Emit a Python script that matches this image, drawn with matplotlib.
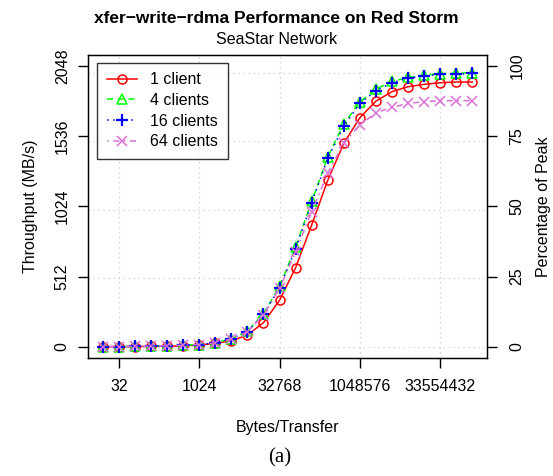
import matplotlib
matplotlib.use('Agg')
import matplotlib.pyplot as plt
from matplotlib.ticker import FixedLocator, NullLocator

plt.rcParams['font.family'] = ['Liberation Sans', 'DejaVu Sans']

# 每次传输的字节数
sizes = [16, 32, 64, 128, 256, 512, 1024, 2048, 4096, 8192, 16384, 32768,
         65536, 131072, 262144, 524288, 1048576, 2097152, 4194304, 8388608,
         16777216, 33554432, 67108864, 134217728]

# 吞吐量 (MB/s)
one_client = [0.3, 0.6, 1.2, 2.4, 4.5, 6, 12, 24, 44, 85, 175, 338, 576, 888,
              1214, 1484, 1671, 1792, 1861, 1897, 1914, 1926, 1931, 1931]
four_clients = [0.5, 1, 2, 4, 7, 11, 16, 28, 58, 112, 240, 440, 725, 1060,
                1385, 1625, 1785, 1880, 1935, 1965, 1982, 1992, 1995, 2000]
sixteen_clients = [0.5, 1, 2, 4, 7, 11, 16, 28, 58, 109, 236, 430, 713, 1051,
                   1374, 1610, 1775, 1868, 1926, 1958, 1975, 1987, 1989, 1994]
sixtyfour_clients = [0.5, 1, 2, 4, 7, 11, 16, 28, 58, 109, 231, 425, 693, 985,
                     1265, 1488, 1617, 1707, 1746, 1775, 1788, 1795, 1795, 1795]

series = [
    ('1 client', one_client, '#FF0000', '-', 'o'),
    ('4 clients', four_clients, '#00FF00', (0, (4, 3)), '^'),
    ('16 clients', sixteen_clients, '#0000FF', (0, (1, 3)), '+'),
    ('64 clients', sixtyfour_clients, '#DA70D6', (0, (1, 3, 4, 3)), 'x'),
]

x_ticks = [32, 1024, 32768, 1048576, 33554432]
y_ticks = [0, 512, 1024, 1536, 2048]
pct_ticks = [0, 25, 50, 75, 100]
peak = 2048

fig = plt.figure(figsize=(5.53, 4.76), dpi=100)
ax = fig.add_axes([0.159, 0.248, 0.722, 0.637])

for label, vals, color, ls, mk in series:
    plus = mk == '+'
    ax.plot(sizes, vals, color=color, linestyle=ls, linewidth=1.1,
            marker=mk, markersize=8 if plus else 6.5,
            markerfacecolor='none', markeredgecolor=color,
            markeredgewidth=1.6 if plus else 1.1, label=label)

ax.set_xscale('log', base=2)
ax.set_xlim(2 ** 3.08, 2 ** 27.92)
ax.set_ylim(-82, 2130)

ax.xaxis.set_major_locator(FixedLocator(x_ticks))
ax.xaxis.set_minor_locator(NullLocator())
ax.set_xticklabels([str(v) for v in x_ticks])
ax.set_yticks(y_ticks)
ax.set_yticklabels([str(v) for v in y_ticks], rotation=90, va='center')

# 网格
for v in x_ticks:
    ax.axvline(v, color='#CCCCCC', linestyle=(0, (1, 3)), linewidth=0.9, zorder=0)
for v in [0, 500, 1000, 1500, 2000]:
    ax.axhline(v, color='#CCCCCC', linestyle=(0, (1, 3)), linewidth=0.9, zorder=0)

ax.tick_params(axis='both', direction='out', length=7, width=1, labelsize=11.5)
ax.tick_params(axis='x', pad=8)
ax.tick_params(axis='y', pad=6)
for s in ax.spines.values():
    s.set_linewidth(1)

ax.set_ylabel('Throughput (MB/s)', fontsize=11.5, labelpad=12)
ax.set_xlabel('Bytes/Transfer', fontsize=11.5, labelpad=19)

ax2 = ax.twinx()
ax2.set_ylim(-82 / peak * 100, 2130 / peak * 100)
ax2.set_yticks(pct_ticks)
ax2.set_yticklabels([str(v) for v in pct_ticks], rotation=90, va='center')
ax2.tick_params(axis='y', direction='out', length=7, width=1, labelsize=11.5, pad=9)
ax2.set_ylabel('Percentage of Peak', fontsize=11.5, labelpad=8)

leg = ax.legend(loc='upper left', bbox_to_anchor=(0.0226, 0.974), fontsize=11.5,
                frameon=True, fancybox=False, edgecolor='black',
                borderaxespad=0, handlelength=1.9, borderpad=0.6,
                labelspacing=0.36, handletextpad=0.85)
leg.get_frame().set_linewidth(1)

fig.text(0.5, 0.962, 'xfer\u2212write\u2212rdma Performance on Red Storm',
         ha='center', va='center', fontsize=12.5, fontweight='bold')
fig.text(0.5, 0.918, 'SeaStar Network', ha='center', va='center', fontsize=11.5)
fig.text(0.505, 0.038, '(a)', ha='center', va='center', fontsize=15,
         family=['Liberation Serif', 'DejaVu Serif'])

fig.savefig('out.png', dpi=100)
